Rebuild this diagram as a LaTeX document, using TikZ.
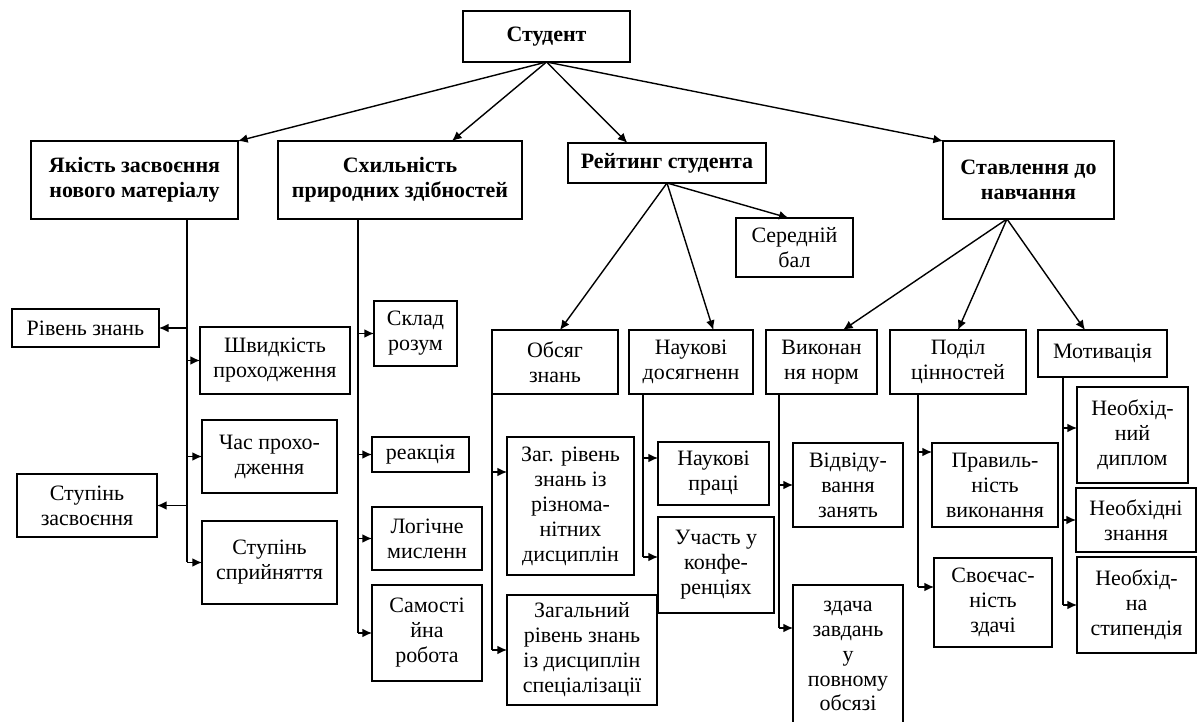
\documentclass[tikz,border=0pt]{standalone}
\usepackage{fontspec}
\setmainfont{Liberation Serif}
\usetikzlibrary{arrows.meta}
\usetikzlibrary{calc}

\begin{document}
\begin{tikzpicture}[x=0.02cm,y=-0.02cm]
    \tikzset{
      box/.style={
        rectangle,
        draw,
        line width=0.95pt,
        align=center,
        inner sep=0mm,
        outer sep=0mm,
        font=\fontsize{12.5}{14.2}\selectfont
      },
      head/.style={
        box,
        font=\fontsize{12.5}{14.2}\selectfont\bfseries
      },
      link/.style={
        line width=0.8pt,
        -{Latex[length=5.5pt,width=5pt]}
      },
      trunk/.style={
        line width=0.8pt
      }
    }

    \useasboundingbox (0,0) rectangle (1198,722);

    %Top node
    \node[head,minimum width=3.34cm,minimum height=1.02cm] at (546.5,36.5) (stud) {Студент};

    %Second row
    \node[head,minimum width=4.14cm,minimum height=1.56cm] at (134.5,180) (yakist) {Якість засвоєння\\нового матеріалу};
    \node[head,minimum width=4.88cm,minimum height=1.56cm] at (400,180) (skhyl) {Схильність\\природних здібностей};
    \node[head,minimum width=3.96cm,minimum height=0.80cm] at (667,163) (reit) {Рейтинг студента};
    \node[head,minimum width=3.42cm,minimum height=1.56cm] at (1028.5,180) (stavl) {Ставлення до\\навчання};

    %Average mark
    \node[box,minimum width=2.34cm,minimum height=1.18cm] at (794.5,247.5) (serbal) {Середній\\бал};

    %Quality column
    \node[box,minimum width=2.94cm,minimum height=0.76cm] at (85.5,328) (riven) {Рівень знань};
    \node[box,minimum width=3.00cm,minimum height=1.34cm] at (275,360.5) (shvyd) {Швидкість\\проходження};
    \node[box,minimum width=2.70cm,minimum height=1.46cm] at (269.5,456.5) (chas) {Час прохо-\\дження};
    \node[box,minimum width=2.80cm,minimum height=1.26cm] at (87,505.5) (stupzasv) {Ступінь\\засвоєння};
    \node[box,minimum width=2.70cm,minimum height=1.66cm] at (269.5,562.5) (stupspr) {Ступінь\\сприйняття};

    %Abilities column
    \node[box,minimum width=1.66cm,minimum height=1.30cm] at (415.5,333.5) (sklad) {Склад\\розум};
    \node[box,minimum width=1.94cm,minimum height=0.70cm] at (420.5,454.5) (reak) {реакція};
    \node[box,minimum width=2.20cm,minimum height=1.26cm] at (427,538.5) (logich) {Логічне\\мисленн};
    \node[box,minimum width=2.20cm,minimum height=1.92cm] at (427,633) (samost) {Самості\\йна\\робота};

    %Rating column
    \node[box,minimum width=2.52cm,minimum height=1.28cm] at (555,362) (obsyag) {Обсяг\\знань};
    \node[box,minimum width=2.48cm,minimum height=1.28cm] at (691,362) (naukdos) {Наукові\\досягненн};
    \node[box,minimum width=2.54cm,minimum height=2.76cm] at (570.5,506) (zag1) {Заг. рівень\\знань із\\різнома-\\нітних\\дисциплін};
    \node[box,minimum width=3.00cm,minimum height=2.20cm] at (582,650) (zag2) {Загальний\\рівень знань\\із дисциплін\\спеціалізації};
    \node[box,minimum width=2.22cm,minimum height=1.26cm] at (713.5,473.5) (naukpr) {Наукові\\праці};
    \node[box,minimum width=2.32cm,minimum height=1.92cm] at (716,565) (uchast) {Участь у\\конфе-\\ренціях};

    %Attitude column
    \node[box,minimum width=2.22cm,minimum height=1.28cm] at (821.5,362) (vykon) {Виконан\\ня норм};
    \node[box,minimum width=2.72cm,minimum height=1.28cm] at (958,362) (podil) {Поділ\\цінностей};
    \node[box,minimum width=2.58cm,minimum height=0.94cm] at (1102.5,353.5) (motyv) {Мотивація};
    \node[box,minimum width=2.20cm,minimum height=1.68cm] at (848,485) (vidvid) {Відвіду-\\вання\\занять};
    \node[box,minimum width=2.20cm,minimum height=2.84cm] at (848,656) (zdacha) {здача\\завдань\\у\\повному\\обсязі};
    \node[box,minimum width=2.52cm,minimum height=1.68cm] at (995,485) (pravyl) {Правиль-\\ність\\виконання};
    \node[box,minimum width=2.36cm,minimum height=1.78cm] at (993,602.5) (svoech) {Своєчас-\\ність\\здачі};
    \node[box,minimum width=2.22cm,minimum height=1.92cm] at (1132.5,435) (neob1) {Необхід-\\ний\\диплом};
    \node[box,minimum width=2.40cm,minimum height=1.28cm] at (1136,520) (neob2) {Необхідні\\знання};
    \node[box,minimum width=2.38cm,minimum height=1.92cm] at (1136.5,605) (neob3) {Необхід-\\на\\стипендія};

    %From student
    \draw[link] (stud.south) -- (yakist.north east);
    \draw[link] (stud.south) -- ($(skhyl.north west)!0.713!(skhyl.north east)$);
    \draw[link] (stud.south) -- ($(reit.north west)!0.3!(reit.north east)$);
    \draw[link] (stud.south) -- (stavl.north west);

    %From rating
    \draw[link] (reit.south) -- ($(obsyag.north west)!0.54!(obsyag.north east)$);
    \draw[link] (reit.south) -- ($(naukdos.north west)!0.68!(naukdos.north east)$);
    \draw[link] (reit.south) -- ($(serbal.north west)!0.45!(serbal.north east)$);

    %From attitude
    \coordinate (st) at ($(stavl.south west)!0.374!(stavl.south east)$);
    \draw[link] (st) -- ($(vykon.north west)!0.694!(vykon.north east)$);
    \draw[link] (st) -- (podil.north);
    \draw[link] (st) -- ($(motyv.north west)!0.364!(motyv.north east)$);

    %Quality trunk
    \coordinate (yk) at ($(yakist.south west)!0.754!(yakist.south east)$);
    \draw[trunk] (yk) -- (yk |- stupspr.west);
    \draw[link] (yk |- riven.east) -- (riven.east);
    \draw[link] (yk |- stupzasv.east) -- (stupzasv.east);
    \draw[link] (yk |- shvyd.west) -- (shvyd.west);
    \draw[link] (yk |- chas.west) -- (chas.west);
    \draw[link] (yk |- stupspr.west) -- (stupspr.west);

    %Abilities trunk
    \coordinate (sk) at ($(skhyl.south west)!0.328!(skhyl.south east)$);
    \draw[trunk] (sk) -- (sk |- samost.west);
    \draw[link] (sk |- sklad.west) -- (sklad.west);
    \draw[link] (sk |- reak.west) -- (reak.west);
    \draw[link] (sk |- logich.west) -- (logich.west);
    \draw[link] (sk |- samost.west) -- (samost.west);

    %Volume trunk
    \coordinate (ob) at (obsyag.south west);
    \coordinate (z1) at ([yshift=-0.7cm]zag1.north west);
    \draw[trunk] (ob) -- (ob |- zag2.west);
    \draw[link] (ob |- z1) -- (z1);
    \draw[link] (ob |- zag2.west) -- (zag2.west);

    %Science trunk
    \coordinate (nd) at ($(naukdos.south west)!0.113!(naukdos.south east)$);
    \coordinate (np) at ([yshift=-0.32cm]naukpr.north west);
    \coordinate (uc) at ([yshift=-0.8cm]uchast.north west);
    \draw[trunk] (nd) -- (nd |- uc);
    \draw[link] (nd |- np) -- (np);
    \draw[link] (nd |- uc) -- (uc);

    %Norms trunk
    \coordinate (vk) at ($(vykon.south west)!0.117!(vykon.south east)$);
    \coordinate (zd) at ([yshift=-0.86cm]zdacha.north west);
    \draw[trunk] (vk) -- (vk |- zd);
    \draw[link] (vk |- vidvid.west) -- (vidvid.west);
    \draw[link] (vk |- zd) -- (zd);

    %Values trunk
    \coordinate (pd) at ($(podil.south west)!0.206!(podil.south east)$);
    \coordinate (pv) at ([yshift=-0.18cm]pravyl.north west);
    \coordinate (sv) at ([yshift=-0.58cm]svoech.north west);
    \draw[trunk] (pd) -- (pd |- sv);
    \draw[link] (pd |- pv) -- (pv);
    \draw[link] (pd |- sv) -- (sv);

    %Motivation trunk
    \coordinate (mt) at ($(motyv.south west)!0.194!(motyv.south east)$);
    \coordinate (n1) at ([yshift=-0.82cm]neob1.north west);
    \draw[trunk] (mt) -- (mt |- neob3.west);
    \draw[link] (mt |- n1) -- (n1);
    \draw[link] (mt |- neob2.west) -- (neob2.west);
    \draw[link] (mt |- neob3.west) -- (neob3.west);
  \end{tikzpicture}
\end{document}
